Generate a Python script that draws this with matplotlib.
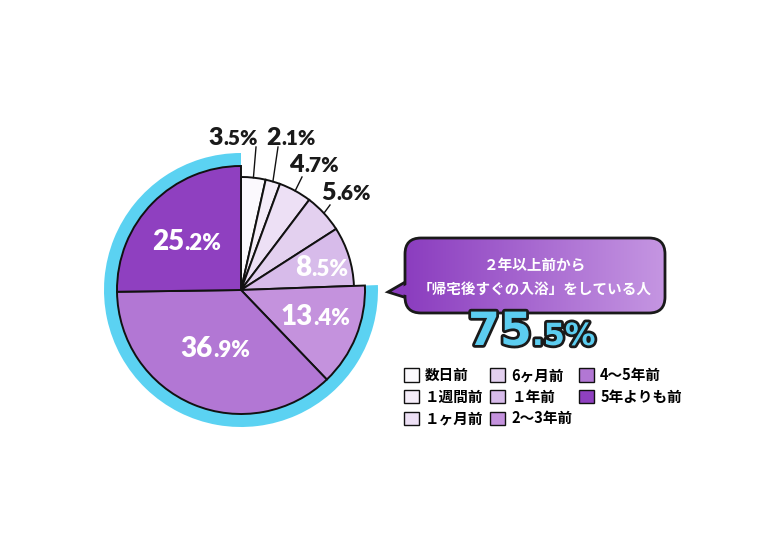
import numpy as np
import matplotlib
matplotlib.use("Agg")
import matplotlib.pyplot as plt
from matplotlib.patches import Wedge, FancyBboxPatch, Polygon
from matplotlib.colors import LinearSegmentedColormap
import matplotlib.patheffects as pe

plt.rcParams['font.family'] = ['Noto Sans CJK JP', 'DejaVu Sans']

# dados do gráfico
categorias = ["数日前", "１週間前", "１ヶ月前", "6ヶ月前", "１年前", "2～3年前", "4～5年前", "5年よりも前"]
valores = [3.5, 2.1, 4.7, 5.6, 8.5, 13.4, 36.9, 25.2]
cores = ["#fbf9fd", "#f5edf9", "#ede0f5", "#e3d0ef", "#d7bbea", "#c492dd", "#b277d4", "#8f40c0"]
titulo_bolha = ["２年以上前から", "「帰宅後すぐの入浴」をしている人"]
destaque = 75.5

fonte_num = ["Lato", "DejaVu Sans"]

fig = plt.figure(figsize=(7.8, 5.42), dpi=100)
ax = fig.add_axes([0, 0, 1, 1])

cx, cy = 241, 290
r_grande, r_pequeno = 124, 113

# pizza (sentido horário a partir do topo, eixo y invertido)
wedges, _ = ax.pie(valores, colors=cores, startangle=-90, counterclock=True,
                   center=(cx, cy), radius=r_grande,
                   wedgeprops=dict(edgecolor="#111111", linewidth=1.4))
for w in wedges[:5]:
    w.set_radius(r_pequeno)

# anel azul dos "2 anos ou mais"
anel = Wedge((cx, cy), r_grande + 13, wedges[5].theta1, wedges[-1].theta2,
             width=13, facecolor="#5bd2f2", edgecolor="none", zorder=0)
ax.add_patch(anel)


def rotulo(x, y, valor, cor, tam_g, tam_p):
    inteiro, dec = f"{valor:.1f}".split(".")
    ax.text(x, y, inteiro, ha="right", va="baseline", fontsize=tam_g, color=cor,
            fontweight="heavy", family=fonte_num, zorder=8)
    ax.text(x, y, "." + dec + "%", ha="left", va="baseline", fontsize=tam_p, color=cor,
            fontweight="heavy", family=fonte_num, zorder=8)


# rótulos internos (brancos)
pos_dentro = {5: (313, 325), 6: (213, 357), 7: (184, 250), 4: (311, 276)}
for i, (x, y) in pos_dentro.items():
    rotulo(x, y, valores[i], "white", 20, 16)

# rótulos externos com linhas guia
pos_fora = [(223, 145), (281, 145), (304, 172), (336, 200)]
fim_linha = [(256, 147), (278, 147), (302, 177), (330, 205)]
for i in range(4):
    w = wedges[i]
    ang = np.deg2rad((w.theta1 + w.theta2) / 2)
    x0 = cx + r_pequeno * np.cos(ang)
    y0 = cy + r_pequeno * np.sin(ang)
    ax.plot([x0, fim_linha[i][0]], [y0, fim_linha[i][1]], color="#111111", lw=1.0, zorder=3)
    rotulo(pos_fora[i][0], pos_fora[i][1], valores[i], "#1a1a1a", 18, 15)

# balão
roxo_esq, roxo_dir = "#8b3dbf", "#c596e2"
cauda = Polygon([(407, 281), (388, 292), (407, 298)], closed=True,
                facecolor=roxo_esq, edgecolor="#1a1a1a", lw=2, zorder=4)
ax.add_patch(cauda)
bolha = FancyBboxPatch((405, 238), 260, 75, boxstyle="round,pad=0,rounding_size=16",
                       facecolor="none", edgecolor="#1a1a1a", linewidth=2, zorder=6)
ax.add_patch(bolha)
fundo = FancyBboxPatch((405, 238), 260, 75, boxstyle="round,pad=0,rounding_size=16",
                       facecolor="none", edgecolor="none", zorder=5)
ax.add_patch(fundo)
cmap = LinearSegmentedColormap.from_list("roxo", [roxo_esq, roxo_dir])
grad = ax.imshow(np.linspace(0, 1, 256).reshape(1, -1), cmap=cmap, aspect="auto",
                 extent=(405, 665, 313, 238), zorder=5)
grad.set_clip_path(fundo)
tampa = Polygon([(410, 283), (393, 292), (410, 296)], closed=True,
                facecolor=roxo_esq, edgecolor="none", zorder=6.5)
ax.add_patch(tampa)

ax.text(535, 265, titulo_bolha[0], ha="center", va="center", fontsize=10.5,
        color="white", fontweight="bold", zorder=7)
ax.text(535, 289, titulo_bolha[1], ha="center", va="center", fontsize=10.5,
        color="white", fontweight="bold", zorder=7)

# número em destaque
contorno = [pe.withStroke(linewidth=4, foreground="#1a1a1a")]
inteiro, dec = f"{destaque:.1f}".split(".")
ax.text(532, 345, inteiro, ha="right", va="baseline", fontsize=33, color="#5ccdf0",
        fontweight="bold", family="DejaVu Sans", path_effects=contorno, zorder=9)
ax.text(532, 345, "." + dec + "%", ha="left", va="baseline", fontsize=22, color="#5ccdf0",
        fontweight="bold", family="DejaVu Sans", path_effects=contorno, zorder=9)

# legenda
leg = ax.legend(wedges, categorias, ncol=3, loc="upper left",
                bbox_to_anchor=(404 / 780, 1 - 367 / 542), frameon=False,
                prop={"weight": "bold", "size": 10.5}, handlelength=1.0, handleheight=1.0,
                handletextpad=0.45, columnspacing=0.45, labelspacing=0.38,
                borderpad=0, borderaxespad=0)
for h in leg.legend_handles:
    h.set_linewidth(1.0)

ax.set_xlim(0, 780)
ax.set_ylim(542, 0)
ax.axis("off")

fig.savefig("out.png", dpi=100, facecolor="white")
